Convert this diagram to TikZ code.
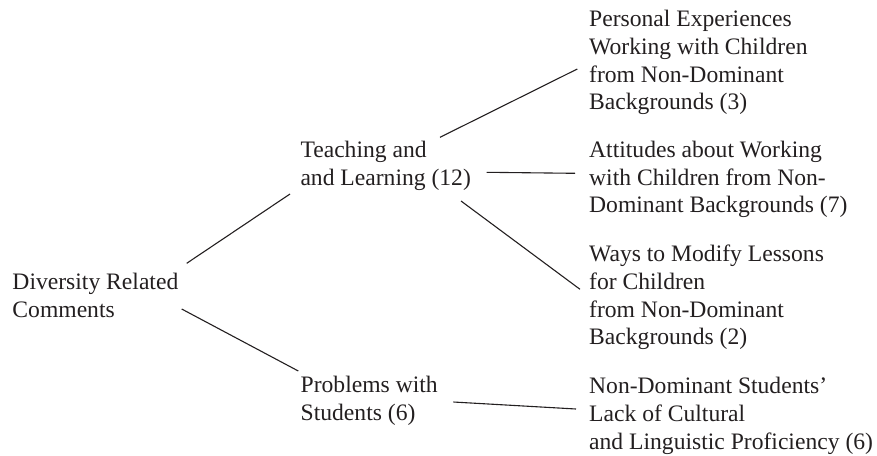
\documentclass[tikz,border=0pt]{standalone}
\usepackage{fontspec}
\setmainfont{Liberation Serif}
\usetikzlibrary{calc}
\definecolor{ink}{HTML}{231F20}
\begin{document}
\begin{tikzpicture}[x=1pt,y=-1pt,
  txt/.style={anchor=north west,inner sep=0pt,align=left,text=ink,
    font=\fontsize{23.6}{27.7}\selectfont},
  link/.style={draw=ink,line width=1.1pt}]
\useasboundingbox (0,0) rectangle (877,455);

% root
\node[txt] (div) at (12.3,269.9) {\strut Diversity Related\\Comments};

% second level
\node[txt] (teach) at (300.3,137.9) {\strut Teaching and\\and Learning (12)};
\node[txt] (prob) at (300.5,373.1) {\strut Problems with\\Students (6)};

% leaves
\node[txt] (pers) at (589,7.3) {\strut Personal Experiences\\Working with Children\\from Non-Dominant\\Backgrounds (3)};
\node[txt] (att) at (589,137.9) {\strut Attitudes about Working\\with Children from Non-\\Dominant Backgrounds (7)};
\node[txt] (ways) at (589,242.3) {\strut Ways to Modify Lessons\\for Children\\from Non-Dominant\\Backgrounds (2)};
\node[txt] (nond) at (589,374.1) {\strut Non-Dominant Students’\\Lack of Cultural\\and Linguistic Proficiency (6)};

% connectors
\draw[link] ($(div.north west)+(174.4,-6.6)$) -- ($(teach.north west)+(-10.3,56.1)$);
\draw[link] ($(div.north west)+(169.4,39.1)$) -- ($(prob.north west)+(-2.2,-2.1)$);
\draw[link] ($(teach.north west)+(139.7,-0.6)$) -- ($(pers.north west)+(-11.7,61.7)$);
\draw[link] ($(teach.north west)+(186.4,34.4)$) -- ($(att.north west)+(-14,35.4)$);
\draw[link] ($(teach.north west)+(160.7,63.1)$) -- ($(ways.north west)+(-9,47)$);
\draw[link] ($(prob.north west)+(152.8,28.9)$) -- ($(nond.north west)+(-13,34.9)$);
\end{tikzpicture}
\end{document}
